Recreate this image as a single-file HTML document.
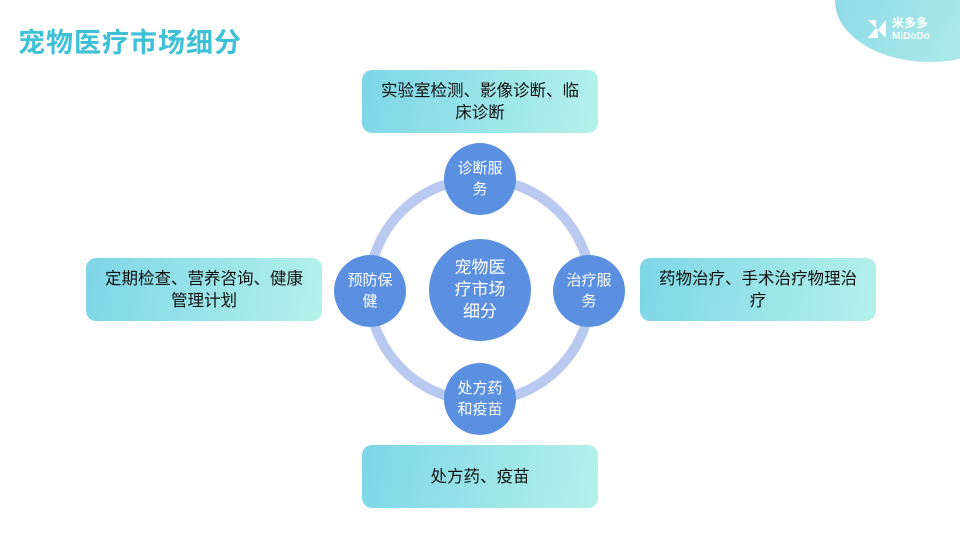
<!DOCTYPE html>
<html><head><meta charset="utf-8"><style>
body{margin:0;width:960px;height:540px;background:#fff;position:relative;overflow:hidden;font-family:"Liberation Sans","Noto Sans CJK SC",sans-serif}
.t{position:absolute;left:18px;top:21px;font-size:27px;font-weight:bold;color:#3ec0d6;letter-spacing:1px}
.b{position:absolute;width:236px;height:63px;border-radius:10px;background:linear-gradient(100deg,#7dd6e6,#b4f1ea);display:flex;align-items:center;justify-content:center;text-align:center;font-size:16.5px;line-height:22px;color:#111;white-space:nowrap}
.c{position:absolute;border-radius:50%;background:#5b90e0;color:#fff;display:flex;align-items:center;justify-content:center;text-align:center;font-size:15px;line-height:21px}
</style></head><body>
<div class="t">宠物医疗市场细分</div>
<div style="position:absolute;left:835px;top:-60px;width:190px;height:122px;border-radius:50%;background:linear-gradient(120deg,#8ad7e8,#b6f0e8)"></div>
<div style="position:absolute;left:868px;top:20px;width:18px;height:18px;background:#fff;clip-path:polygon(0 0,45% 0,45% 45%,0 100%,55% 100%,55% 55%,100% 0,100% 100%)"></div>
<div style="position:absolute;left:892px;top:17px;color:#fff;font-size:12px;font-weight:bold;line-height:12px">米多多<br><span style="font-size:10px">MiDoDo</span></div>
<svg style="position:absolute;left:0;top:0" width="960" height="540"><circle cx="480" cy="290" r="111" fill="none" stroke="#b9c9ef" stroke-width="10"/></svg>
<div class="b" style="left:362px;top:70px">实验室检测、影像诊断、临<br>床诊断</div>
<div class="b" style="left:86px;top:258px">定期检查、营养咨询、健康<br>管理计划</div>
<div class="b" style="left:640px;top:258px">药物治疗、手术治疗物理治<br>疗</div>
<div class="b" style="left:362px;top:445px">处方药、疫苗</div>
<div class="c" style="left:444px;top:143px;width:72px;height:72px">诊断服<br>务</div>
<div class="c" style="left:334px;top:255px;width:72px;height:72px">预防保<br>健</div>
<div class="c" style="left:553px;top:255px;width:72px;height:72px">治疗服<br>务</div>
<div class="c" style="left:444px;top:363px;width:72px;height:72px">处方药<br>和疫苗</div>
<div class="c" style="left:429px;top:239px;width:102px;height:102px;font-size:17px;line-height:22px">宠物医<br>疗市场<br>细分</div>
</body></html>
